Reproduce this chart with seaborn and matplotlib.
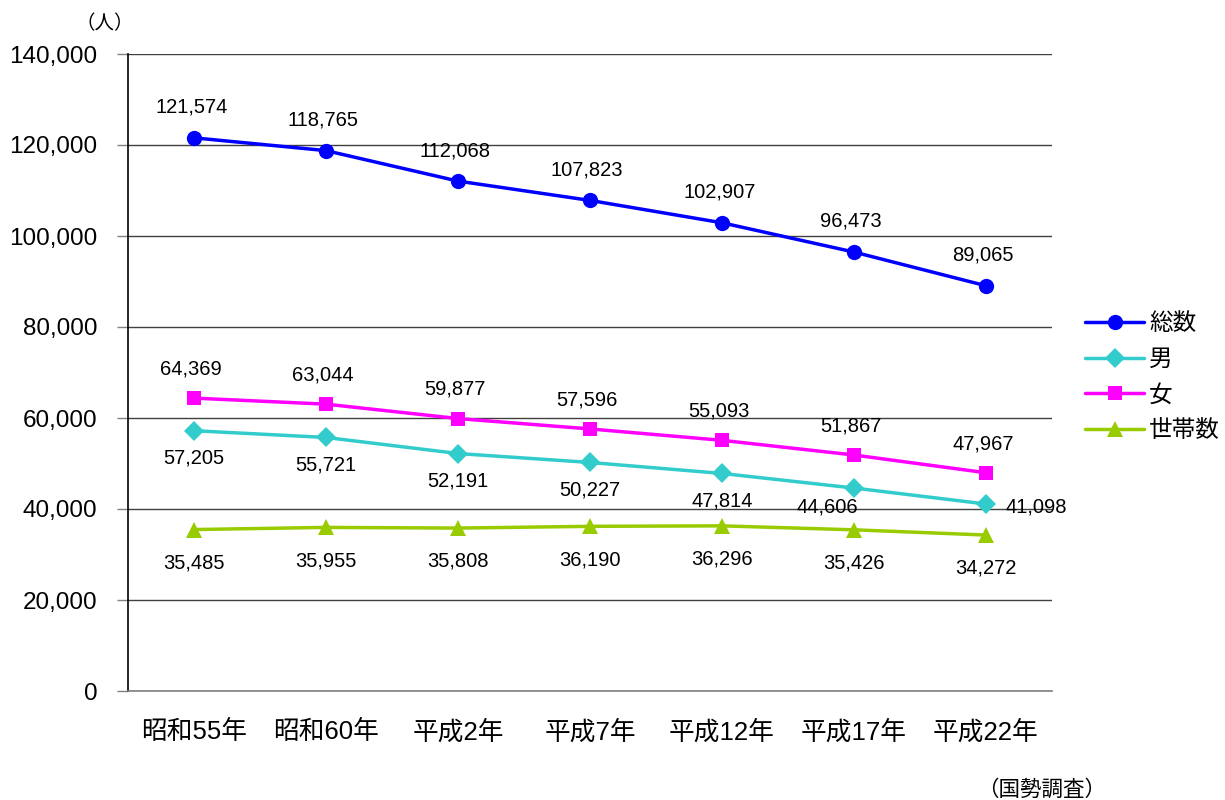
"""
Population and household trend (国勢調査) line chart
"""

import matplotlib
matplotlib.use('Agg')
import matplotlib.pyplot as plt
import seaborn as sns
import pandas as pd
from matplotlib.ticker import FuncFormatter, FixedLocator

# data
years = ['昭和55年', '昭和60年', '平成2年', '平成7年', '平成12年', '平成17年', '平成22年']
total = [121574, 118765, 112068, 107823, 102907, 96473, 89065]
male = [57205, 55721, 52191, 50227, 47814, 44606, 41098]
female = [64369, 63044, 59877, 57596, 55093, 51867, 47967]
households = [35485, 35955, 35808, 36190, 36296, 35426, 34272]
series_names = ['総数', '男', '女', '世帯数']

sns.set_style('white')
plt.rcParams['font.family'] = ['Liberation Sans', 'Noto Sans CJK JP', 'DejaVu Sans']
plt.rcParams['text.color'] = 'black'
plt.rcParams['xtick.labelcolor'] = 'black'
plt.rcParams['ytick.labelcolor'] = 'black'

fig = plt.figure(figsize=(12.25, 8), dpi=100)
ax = fig.add_axes([128/1225, 1-691/800, (1052-128)/1225, (691-54)/800])

styles = {
    '総数': dict(color='#0000FF', marker='o', markersize=11),
    '男': dict(color='#33CCCC', marker='D', markersize=10),
    '女': dict(color='#FF00FF', marker='s', markersize=10),
    '世帯数': dict(color='#99CC00', marker='^', markersize=12),
}

values = dict(zip(series_names, [total, male, female, households]))
x = list(range(len(years)))

for name in series_names:
    df = pd.DataFrame({'x': x, 'y': values[name]})
    st = styles[name]
    sns.lineplot(data=df, x='x', y='y', ax=ax, color=st['color'], linewidth=2.5,
                 marker=st['marker'], markersize=st['markersize'],
                 markeredgewidth=0, label=name, zorder=3)

# data labels (offsets in points)
def label_series(vals, dx, dy, special=None):
    for i, v in enumerate(vals):
        ox, oy = dx, dy
        if special and i in special:
            ox, oy = special[i]
        ax.annotate(f'{v:,}', (i, v), xytext=(ox, oy), textcoords='offset points',
                    ha='center', va='center', fontsize=14.5, color='black')

label_series(total, -2, 22)
label_series(female, -2, 21)
label_series(male, 0, -20, special={5: (-19, -14), 6: (36, -2)})
label_series(households, 0, -24)

ax.set_xlim(-0.5, len(years) - 0.5)
ax.set_ylim(0, 140000)
ax.yaxis.set_major_locator(FixedLocator(range(0, 140001, 20000)))
ax.yaxis.set_major_formatter(FuncFormatter(lambda v, p: f'{int(v):,}'))
ax.set_xticks(x)
ax.set_xticklabels(years, fontsize=18.5)
ax.xaxis.set_minor_locator(FixedLocator([i - 0.5 for i in range(len(years) + 1)]))
ax.tick_params(axis='x', which='major', length=0, pad=21)
ax.tick_params(axis='x', which='minor', length=8, color='#808080', width=1)
ax.tick_params(axis='y', length=8, color='#808080', width=1, labelsize=17.5, pad=14,
               left=True)
ax.set_xlabel('')
ax.set_ylabel('')

ax.grid(axis='y', color='#404040', linewidth=1)
ax.set_axisbelow(True)
for s in ['top', 'right']:
    ax.spines[s].set_visible(False)
ax.spines['left'].set_color('black')
ax.spines['left'].set_linewidth(1.2)
ax.spines['bottom'].set_color('#808080')
ax.spines['bottom'].set_linewidth(1.2)

leg = ax.legend(loc='upper left', bbox_to_anchor=(1064/1225, 1-292/800),
                bbox_transform=fig.transFigure, frameon=False, fontsize=17,
                handlelength=2.5, handletextpad=0.2, labelspacing=0.58)

fig.text(105/1225, 1-24/800, '（人）', fontsize=14, ha='center', va='center')
fig.text(1042/1225, 1-790/800, '（国勢調査）', fontsize=15.5, ha='center', va='center')

fig.savefig('out.png', dpi=100)
plt.close(fig)
